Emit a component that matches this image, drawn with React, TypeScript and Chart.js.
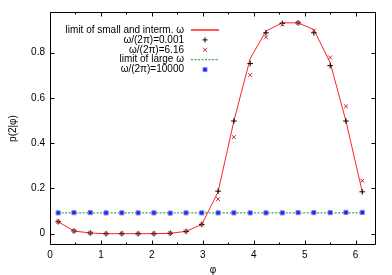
import React, { useEffect, useRef } from "react";
import { Chart, registerables } from "chart.js";

Chart.register(...registerables);

const phi = [0.16, 0.47, 0.79, 1.1, 1.41, 1.73, 2.04, 2.36, 2.67, 2.98, 3.3, 3.61, 3.93, 4.24, 4.56, 4.87, 5.18, 5.5, 5.81, 6.13];
const limitSmall = [0.053, 0.012, 0.003, 0.0, 0.0, 0.0, 0.0, 0.002, 0.01, 0.041, 0.185, 0.498, 0.774, 0.896, 0.932, 0.932, 0.902, 0.756, 0.498, 0.185];
const omega0001 = [0.053, 0.012, 0.003, 0.0, 0.0, 0.0, 0.0, 0.002, 0.01, 0.041, 0.188, 0.498, 0.752, 0.888, 0.93, 0.932, 0.888, 0.743, 0.498, 0.185];
const omega616 = [0.053, 0.012, 0.003, 0.0, 0.0, 0.0, 0.0, 0.002, 0.01, 0.041, 0.153, 0.427, 0.701, 0.868, 0.926, 0.932, 0.898, 0.779, 0.563, 0.234];
const limitLarge = [0.092, 0.092, 0.092, 0.092, 0.092, 0.092, 0.092, 0.092, 0.092, 0.092, 0.092, 0.092, 0.092, 0.092, 0.092, 0.092, 0.092, 0.092, 0.092, 0.092];
const omega10000 = [0.092, 0.093, 0.093, 0.092, 0.092, 0.092, 0.092, 0.091, 0.092, 0.092, 0.092, 0.092, 0.092, 0.092, 0.092, 0.093, 0.093, 0.093, 0.094, 0.094];

const xMajorTicks = [0, 1, 2, 3, 4, 5, 6];
const xMinorTicks = [0.5, 1.5, 2.5, 3.5, 4.5, 5.5];
const yTicks = [0, 0.2, 0.4, 0.6, 0.8];
const yTickLabels = ["0", "0.2", "0.4", "0.6", "0.8"];
const legendLabels = [
  "limit of small and interm. \u03c9",
  "\u03c9/(2\u03c0)=0.001",
  "\u03c9/(2\u03c0)=6.16",
  "limit of large \u03c9",
  "\u03c9/(2\u03c0)=10000",
];

const FONT = "'Liberation Sans', Arial, sans-serif";
const RED = "#ff2020";
const RED_X = "#d02828";
const GREEN = "#1a8a1a";
const BLUE_FILL = "#2020e8";
const BLUE_EDGE = "#7080ff";

const pts = (ys: number[]) => phi.map((x, i) => ({ x, y: ys[i] }));

const framePlugin = {
  id: "gnuplotFrame",
  afterDatasetsDraw(chart: any) {
    const { ctx, chartArea } = chart;
    const { left, right, top, bottom } = chartArea;
    const xs = chart.scales.x;
    const ys = chart.scales.y;

    // legend
    ctx.save();
    ctx.font = `10px ${FONT}`;
    ctx.fillStyle = "#000";
    ctx.textAlign = "right";
    ctx.textBaseline = "middle";
    const tx = 184;
    const s0 = 191;
    const s1 = 219;
    const mx = 205;
    legendLabels.forEach((lab, i) => {
      const y = 30 + i * 9.9;
      ctx.fillText(lab, tx, y);
      ctx.beginPath();
      if (i === 0) {
        ctx.strokeStyle = RED;
        ctx.lineWidth = 1.5;
        ctx.setLineDash([]);
        ctx.moveTo(s0, y);
        ctx.lineTo(s1, y);
        ctx.stroke();
      } else if (i === 1) {
        ctx.strokeStyle = "#000";
        ctx.lineWidth = 1;
        ctx.moveTo(mx - 2.5, y);
        ctx.lineTo(mx + 2.5, y);
        ctx.moveTo(mx, y - 2.5);
        ctx.lineTo(mx, y + 2.5);
        ctx.stroke();
      } else if (i === 2) {
        ctx.strokeStyle = RED_X;
        ctx.lineWidth = 1;
        ctx.moveTo(mx - 2, y - 2);
        ctx.lineTo(mx + 2, y + 2);
        ctx.moveTo(mx - 2, y + 2);
        ctx.lineTo(mx + 2, y - 2);
        ctx.stroke();
      } else if (i === 3) {
        ctx.strokeStyle = GREEN;
        ctx.lineWidth = 1;
        ctx.setLineDash([2, 1.5]);
        ctx.moveTo(s0, y);
        ctx.lineTo(s1, y);
        ctx.stroke();
        ctx.setLineDash([]);
      } else {
        ctx.fillStyle = BLUE_FILL;
        ctx.strokeStyle = BLUE_EDGE;
        ctx.lineWidth = 1;
        ctx.rect(mx - 2, y - 2, 4, 4);
        ctx.fill();
        ctx.stroke();
        ctx.fillStyle = "#000";
      }
    });
    ctx.restore();

    // frame and ticks
    ctx.save();
    ctx.strokeStyle = "#000";
    ctx.lineWidth = 1;
    ctx.beginPath();
    const L = Math.round(left) + 0.5;
    const R = Math.round(right) - 0.5;
    const T = Math.round(top) + 0.5;
    const B = Math.round(bottom) - 0.5;
    ctx.moveTo(L, T);
    ctx.lineTo(R, T);
    ctx.lineTo(R, B);
    ctx.lineTo(L, B);
    ctx.closePath();
    xMajorTicks.forEach((v) => {
      const x = Math.round(xs.getPixelForValue(v)) + 0.5;
      ctx.moveTo(x, B);
      ctx.lineTo(x, B - 4);
      ctx.moveTo(x, T);
      ctx.lineTo(x, T + 4);
    });
    xMinorTicks.forEach((v) => {
      const x = Math.round(xs.getPixelForValue(v)) + 0.5;
      ctx.moveTo(x, B);
      ctx.lineTo(x, B - 2);
      ctx.moveTo(x, T);
      ctx.lineTo(x, T + 2);
    });
    yTicks.forEach((v) => {
      const y = Math.round(ys.getPixelForValue(v)) + 0.5;
      ctx.moveTo(L, y);
      ctx.lineTo(L + 4, y);
      ctx.moveTo(R, y);
      ctx.lineTo(R - 4, y);
    });
    ctx.stroke();
    ctx.restore();
  },
};

export default function App() {
  const ref = useRef<HTMLCanvasElement | null>(null);

  useEffect(() => {
    if (!ref.current) return;
    Chart.defaults.font.family = FONT;
    Chart.defaults.font.size = 10;
    Chart.defaults.color = "#000";
    const chart = new Chart(ref.current, {
      type: "line",
      data: {
        datasets: [
          {
            label: legendLabels[0],
            data: pts(limitSmall),
            borderColor: RED,
            borderWidth: 1,
            pointRadius: 0,
            showLine: true,
            fill: false,
            tension: 0,
            order: 5,
          },
          {
            label: legendLabels[1],
            data: pts(omega0001),
            showLine: false,
            pointStyle: "cross",
            pointRadius: 2.8,
            borderColor: "#000",
            backgroundColor: "#000",
            pointBorderWidth: 1,
            order: 4,
          },
          {
            label: legendLabels[2],
            data: pts(omega616),
            showLine: false,
            pointStyle: "crossRot",
            pointRadius: 2.8,
            borderColor: RED_X,
            backgroundColor: RED_X,
            pointBorderWidth: 1,
            order: 3,
          },
          {
            label: legendLabels[3],
            data: pts(limitLarge),
            borderColor: GREEN,
            borderWidth: 1,
            borderDash: [2, 1.5],
            pointRadius: 0,
            showLine: true,
            fill: false,
            order: 2,
          },
          {
            label: legendLabels[4],
            data: pts(omega10000),
            showLine: false,
            pointStyle: "rect",
            pointRadius: 2.9,
            borderColor: BLUE_EDGE,
            backgroundColor: BLUE_FILL,
            pointBorderWidth: 1,
            order: 1,
          },
        ],
      },
      options: {
        animation: false,
        responsive: true,
        maintainAspectRatio: false,
        layout: { padding: { left: 0, top: 12, right: 16, bottom: 0 } },
        plugins: {
          legend: { display: false },
          tooltip: { enabled: false },
        },
        scales: {
          x: {
            type: "linear",
            min: 0,
            max: 6.4,
            grid: { display: false, drawTicks: false },
            border: { display: false },
            afterBuildTicks: (scale: any) => {
              scale.ticks = xMajorTicks.map((v) => ({ value: v }));
            },
            afterFit: (scale: any) => {
              scale.height = 30;
            },
            ticks: {
              padding: 4,
              color: "#000",
              font: { size: 10, family: FONT },
              callback: (v: any) => String(v),
            },
            title: {
              display: true,
              text: "\u03c6",
              color: "#000",
              font: { size: 10, family: FONT, lineHeight: 1 },
              padding: { top: 0, bottom: 0 },
            },
          },
          y: {
            type: "linear",
            min: -0.05,
            max: 0.98,
            grid: { display: false, drawTicks: false },
            border: { display: false },
            afterBuildTicks: (scale: any) => {
              scale.ticks = yTicks.map((v) => ({ value: v }));
            },
            afterFit: (scale: any) => {
              scale.width = 50;
            },
            ticks: {
              padding: 5,
              color: "#000",
              font: { size: 10, family: FONT },
              callback: (v: any) => {
                const i = yTicks.indexOf(v);
                return i >= 0 ? yTickLabels[i] : "";
              },
            },
            title: {
              display: true,
              text: "p(2|\u03c6)",
              color: "#000",
              font: { size: 10, family: FONT },
              padding: { top: 7, bottom: 0 },
            },
          },
        },
      },
      plugins: [framePlugin],
    });
    return () => chart.destroy();
  }, []);

  return (
    <div style={{ position: "fixed", left: 0, top: 0, width: 392, height: 275, background: "#fff" }}>
      <canvas ref={ref} />
    </div>
  );
}
